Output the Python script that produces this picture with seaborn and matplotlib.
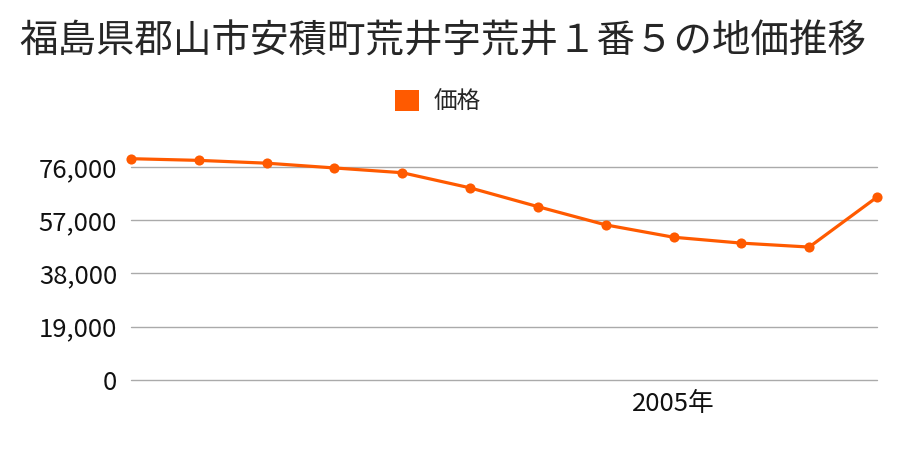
import matplotlib
matplotlib.use("Agg")
import matplotlib.pyplot as plt
import seaborn as sns
import pandas as pd
from matplotlib.patches import Patch

years = [1997, 1998, 1999, 2000, 2001, 2002, 2003, 2004, 2005, 2006, 2007, 2008]
prices = [78900, 78300, 77300, 75600, 73900, 68500, 61800, 55300, 50900, 48800, 47400, 65200]
yticks = [0, 19000, 38000, 57000, 76000]
xtick_years = [2005]
title = "福島県郡山市安積町荒井字荒井１番５の地価推移"
series_name = "価格"

sns.set_theme(style="white")
plt.rcParams['font.family'] = ['Noto Sans CJK JP', 'DejaVu Sans']

color = "#ff5a00"
df = pd.DataFrame({"year": years, "price": prices})

fig = plt.figure(figsize=(9, 4.5), dpi=100)
ax = fig.add_axes([131/900, 1-380/450, 746/900, 230/450])
sns.lineplot(data=df, x="year", y="price", ax=ax, color=color, linewidth=2.3,
             marker="o", markersize=7.3, markeredgewidth=0, legend=False)
for ln in ax.get_lines():
    ln.set_clip_on(False)
    ln.set_zorder(5)

ax.set_xlim(years[0], years[-1])
ax.set_ylim(0, 82000)
ax.set_yticks(yticks)
ax.set_yticklabels([f"{v:,}" for v in yticks], fontsize=18.5)
ax.set_xticks(xtick_years)
ax.set_xticklabels([f"{y}年" for y in xtick_years], fontsize=18.5)
ax.tick_params(axis='y', length=0, pad=10)
ax.tick_params(axis='x', length=0, pad=8)
ax.set_xlabel("")
ax.set_ylabel("")
for s in ax.spines.values():
    s.set_visible(False)
ax.yaxis.grid(True, color="#aaaaaa", linewidth=1)
ax.xaxis.grid(False)
ax.set_axisbelow(True)
for gl in ax.get_ygridlines():
    gl.set_clip_on(False)
for lab in ax.get_yticklabels() + ax.get_xticklabels():
    lab.set_color("#111111")

fig.suptitle(title, fontsize=27.7, x=443/900, y=1-42/450, va="center")
fig.legend(handles=[Patch(facecolor=color, edgecolor='none', label=series_name)],
           loc="center", bbox_to_anchor=(438/900, 1-102/450), frameon=False,
           fontsize=17, handlelength=1.0, handleheight=1.0, handletextpad=0.6)

fig.savefig("out.png", dpi=100)
